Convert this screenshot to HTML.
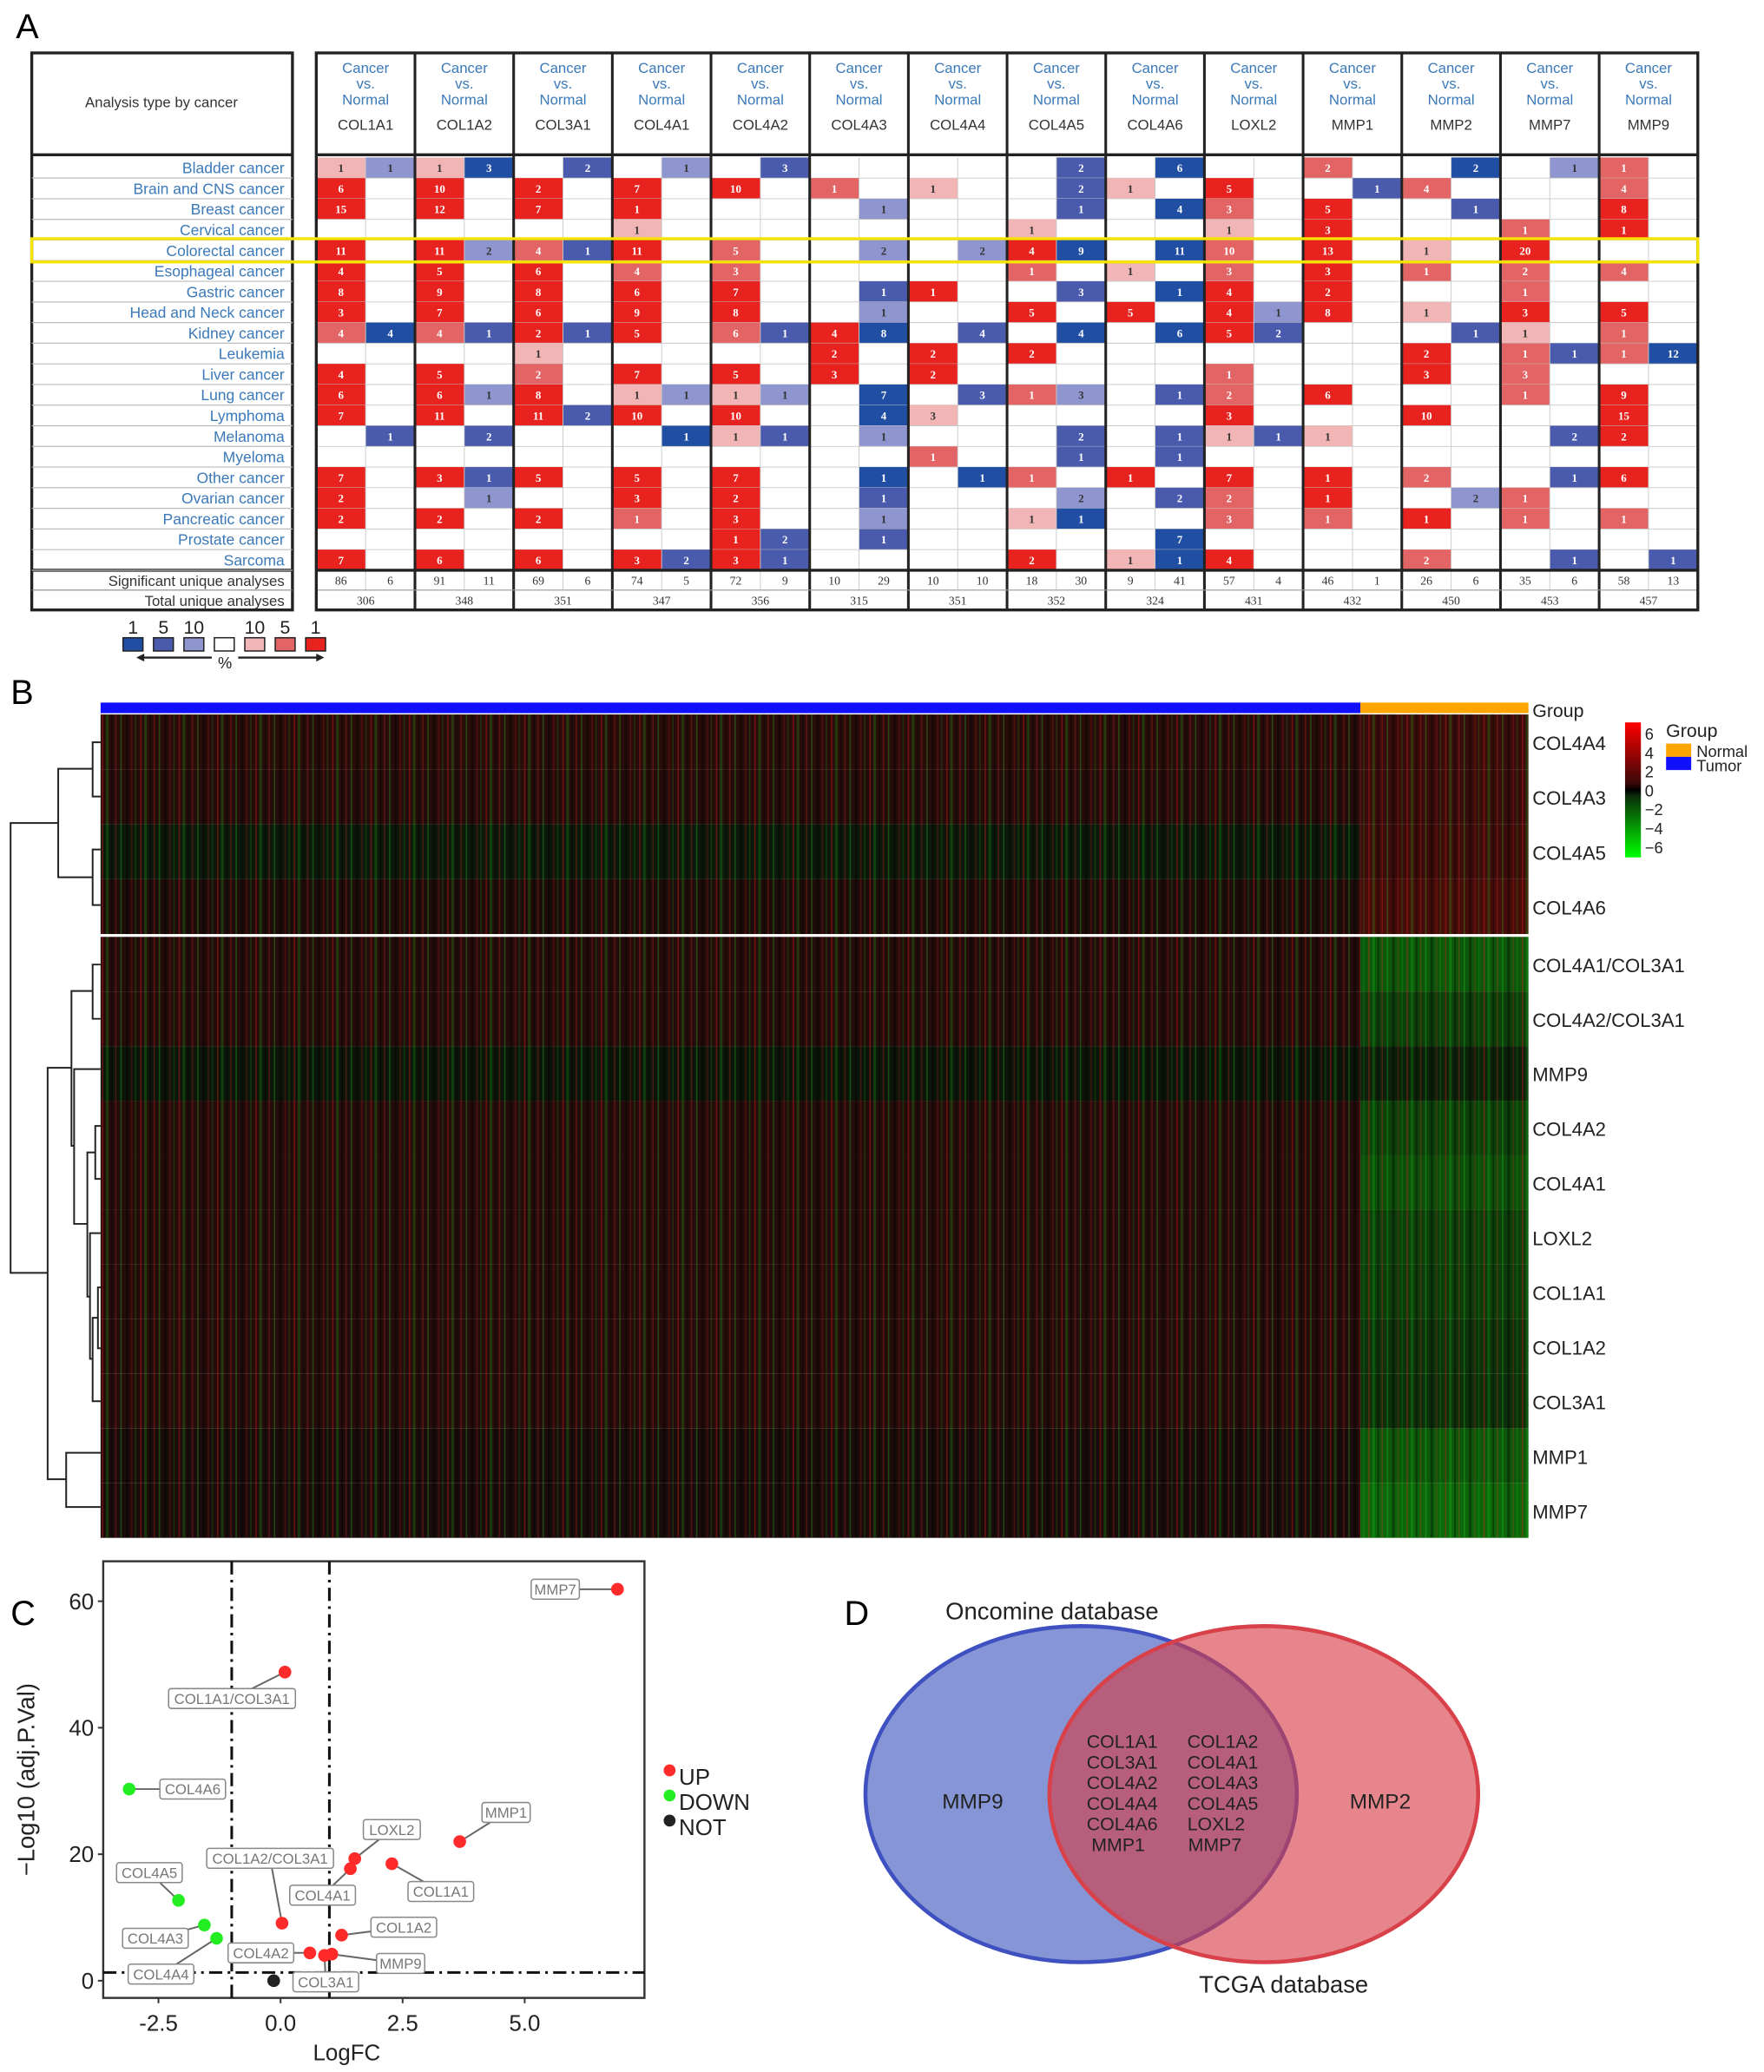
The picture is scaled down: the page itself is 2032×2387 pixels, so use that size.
<!DOCTYPE html>
<html><head><meta charset="utf-8"><style>
html,body{margin:0;padding:0;background:#fff}
svg{display:block;font-family:"Liberation Sans",Arial,sans-serif}
</style></head><body>
<svg id="fig" width="2032" height="2387" viewBox="0 0 1333 1566" preserveAspectRatio="none" xmlns="http://www.w3.org/2000/svg">
<defs>
<pattern id="stripes" x="76" y="0" width="29" height="10" patternUnits="userSpaceOnUse">
<rect x="1" y="0" width="1" height="10" fill="#ff2020" opacity="0.35"/>
<rect x="4" y="0" width="2" height="10" fill="#20ff20" opacity="0.18"/>
<rect x="8" y="0" width="1" height="10" fill="#000" opacity="0.4"/>
<rect x="11" y="0" width="1" height="10" fill="#ff3030" opacity="0.25"/>
<rect x="15" y="0" width="1" height="10" fill="#30ff30" opacity="0.25"/>
<rect x="19" y="0" width="2" height="10" fill="#000" opacity="0.35"/>
<rect x="23" y="0" width="1" height="10" fill="#ff2020" opacity="0.2"/>
<rect x="26" y="0" width="1" height="10" fill="#20ff20" opacity="0.15"/>
</pattern>
<linearGradient id="cbar" x1="0" y1="0" x2="0" y2="1">
<stop offset="0" stop-color="#ff0000"/><stop offset="0.45" stop-color="#3a0808"/><stop offset="0.5" stop-color="#000"/><stop offset="0.55" stop-color="#0a300a"/><stop offset="1" stop-color="#00ff00"/>
</linearGradient>
</defs>
<g id="panelA"></g>
<g id="panelB"></g>
<g id="panelC"></g>
<g id="panelD"></g>
</svg>
<script>
// ---------- Panel A data ----------
const genes=["COL1A1","COL1A2","COL3A1","COL4A1","COL4A2","COL4A3","COL4A4","COL4A5","COL4A6","LOXL2","MMP1","MMP2","MMP7","MMP9"];
const cancers=["Bladder cancer","Brain and CNS cancer","Breast cancer","Cervical cancer","Colorectal cancer","Esophageal cancer","Gastric cancer","Head and Neck cancer","Kidney cancer","Leukemia","Liver cancer","Lung cancer","Lymphoma","Melanoma","Myeloma","Other  cancer","Ovarian cancer","Pancreatic cancer","Prostate cancer","Sarcoma"];
const upCells=[
"1a 6c 15c 0 11c 4c 8c 3c 4b 0 4c 6c 7c 0 0 7c 2c 2c 0 7c",
"1a 10c 12c 0 11c 5c 9c 7c 4b 0 5c 6c 11c 0 0 3c 0 2c 0 6c",
"0 2c 7c 0 4b 6c 8c 6c 2c 1a 2b 8c 11c 0 0 5c 0 2c 0 6c",
"0 7c 1c 1a 11c 4b 6c 9c 5c 0 7c 1a 10c 0 0 5c 3c 1b 0 3c",
"0 10c 0 0 5b 3b 7c 8c 6b 0 5c 1a 10c 1a 0 7c 2c 3c 1c 3c",
"0 1b 0 0 0 0 0 0 4c 2c 3c 0 0 0 0 0 0 0 0 0",
"0 1a 0 0 0 0 1c 0 0 2c 2c 0 3a 0 1b 0 0 0 0 0",
"0 0 0 1a 4c 1b 0 5c 0 2c 0 1b 0 0 0 1b 0 1a 0 2c",
"0 1a 0 0 0 1a 0 5c 0 0 0 0 0 0 0 1c 0 0 0 1a",
"0 5c 3b 1a 10b 3b 4c 4c 5c 0 1b 2b 3c 1a 0 7c 2b 3b 0 4c",
"2b 0 5c 3c 13c 3c 2c 8c 0 0 0 6c 0 1a 0 1c 1c 1b 0 0",
"0 4b 0 0 1a 1b 0 1a 0 2c 3c 0 10c 0 0 2b 0 1c 0 2b",
"0 0 0 1b 20c 2b 1b 3c 1a 1b 3b 1b 0 0 0 0 1b 1b 0 0",
"1b 4b 8c 1c 0 4b 0 5c 1b 1b 0 9c 15c 2c 0 6c 0 1b 0 0"];
const downCells=[
"1a 0 0 0 0 0 0 0 4c 0 0 0 0 1b 0 0 0 0 0 0",
"3c 0 0 0 2a 0 0 0 1b 0 0 1a 0 2b 0 1b 1a 0 0 0",
"2b 0 0 0 1b 0 0 0 1b 0 0 0 2b 0 0 0 0 0 0 0",
"1a 0 0 0 0 0 0 0 0 0 0 1a 0 1c 0 0 0 0 0 2b",
"3b 0 0 0 0 0 0 0 1b 0 0 1a 0 1b 0 0 0 0 2b 1b",
"0 0 1a 0 2a 0 1b 1a 8c 0 0 7c 4c 1a 0 1c 1b 1a 1b 0",
"0 0 0 0 2a 0 0 0 4b 0 0 3b 0 0 0 1c 0 0 0 0",
"2b 2b 1b 0 9c 0 3b 0 4c 0 0 3a 0 2b 1b 0 2a 1c 0 0",
"6c 0 4c 0 11c 0 1c 0 6c 0 0 1b 0 1b 1b 0 2b 0 7c 1c",
"0 0 0 0 0 0 0 1a 2b 0 0 0 0 1b 0 0 0 0 0 0",
"0 1b 0 0 0 0 0 0 0 0 0 0 0 0 0 0 0 0 0 0",
"2c 0 1b 0 0 0 0 0 1b 0 0 0 0 0 0 0 2a 0 0 0",
"1a 0 0 0 0 0 0 0 0 1b 0 0 0 2b 0 1b 0 0 0 1b",
"0 0 0 0 0 0 0 0 0 12c 0 0 0 0 0 0 0 0 0 1b"];
const sigUp=[86,91,69,74,72,10,10,18,9,57,46,26,35,58];
const sigDown=[6,11,6,5,9,29,10,30,41,4,1,6,6,13];
const totalAnalyses=[306,348,351,347,356,315,351,352,324,431,432,450,453,457];

// ---------- Panel B data ----------
const hmRows=["COL4A4","COL4A3","COL4A5","COL4A6","COL4A1/COL3A1","COL4A2/COL3A1","MMP9","COL4A2","COL4A1","LOXL2","COL1A1","COL1A2","COL3A1","MMP1","MMP7"];
const tumorMean=[0.5,0.4,-0.2,0.2,0.4,0.4,-0.1,0.4,0.4,0.4,0.4,0.4,0.4,0.1,0.1];
const normalMean=[1.0,1.0,1.1,1.4,-2.3,-1.5,-0.5,-1.6,-2.0,-1.5,-1.4,-1.1,-1.0,-2.3,-2.8];
const cbarTicks=["6","4","2","0","\u22122","\u22124","\u22126"];

// ---------- Panel C data ----------
const volGenes=["MMP7","COL1A1/COL3A1","COL4A6","MMP1","LOXL2","COL4A1","COL1A1","COL1A2/COL3A1","COL4A5","COL4A3","COL4A4","COL1A2","COL4A2","MMP9","COL3A1",""];
const volLogFC=[6.9,0.09,-3.1,3.67,1.52,1.43,2.28,0.03,-2.09,-1.56,-1.31,1.25,0.6,1.05,0.9,-0.14];
const volLogP=[61.9,48.8,30.3,22,19.3,17.7,18.5,9.1,12.7,8.8,6.7,7.2,4.4,4.2,4.0,0];
const volGroup=["UP","UP","DOWN","UP","UP","UP","UP","UP","DOWN","DOWN","DOWN","UP","UP","UP","UP","NOT"];
const xTicks=[-2.5,0,2.5,5];
const yTicks=[0,20,40,60];

const NS="http://www.w3.org/2000/svg";
function mk(parent,tag,attrs,text){const e=document.createElementNS(NS,tag);for(const k in attrs)e.setAttribute(k,attrs[k]);if(text!==undefined)e.textContent=text;parent.appendChild(e);return e;}

// ================= PANEL A =================
(function(){
const g=document.getElementById('panelA');
let t=mk(g,'text',{x:12,y:29,'font-size':26},'A');


const L0=24,L1=221,R0=239,R1=1283,T0=40,H1=117,rowTop=119,rowH=15.6,S0=431,S1=446,S2=461;
const colW=(R1-R0)/genes.length;
// left box
let lb=mk(g,'rect',{x:L0,y:T0,width:L1-L0,height:S2-T0,fill:'#fff',stroke:'#222','stroke-width':2.2});


mk(g,'line',{x1:L0,x2:L1,y1:H1,y2:H1,stroke:'#222','stroke-width':2.2});
mk(g,'line',{x1:L0,x2:L1,y1:S0,y2:S0,stroke:'#222','stroke-width':2.2});
mk(g,'line',{x1:L0,x2:L1,y1:S1,y2:S1,stroke:'#888','stroke-width':0.8});
t=mk(g,'text',{x:122,y:81,'font-size':11,'text-anchor':'middle',fill:'#333'},'Analysis type by cancer');


t=mk(g,'text',{x:215,y:443,'font-size':11,'text-anchor':'end',fill:'#333'},'Significant unique analyses');


t=mk(g,'text',{x:215,y:458,'font-size':11,'text-anchor':'end',fill:'#333'},'Total unique analyses');


// right box
mk(g,'rect',{x:R0,y:T0,width:R1-R0,height:S2-T0,fill:'#fff',stroke:'none'});
const shadeCol={ra:'#f2b5b5',rb:'#e36464',rc:'#e8231f',ba:'#8f96cf',bb:'#4a5bad',bc:'#1f4ea3'};
cancers.forEach((c,i)=>{
  const y=rowTop+i*rowH;
  mk(g,'line',{x1:L0,x2:L1,y1:y+rowH,y2:y+rowH,stroke:'#bbb','stroke-width':0.8});
  const lab=mk(g,'text',{x:215,y:y+12,'font-size':11.5,'text-anchor':'end',fill:'#3b79b8'},c);
  
  
});
genes.forEach((gn,j)=>{
  const x=R0+j*colW, cx=x+colW/2;
  let h=mk(g,'text',{x:cx,y:55,'font-size':11,'text-anchor':'middle',fill:'#3b79b8'},'Cancer');
  
  
  mk(g,'text',{x:cx,y:67,'font-size':11,'text-anchor':'middle',fill:'#3b79b8'},'vs.');
  mk(g,'text',{x:cx,y:79,'font-size':11,'text-anchor':'middle',fill:'#3b79b8'},'Normal');
  h=mk(g,'text',{x:cx,y:98,'font-size':11,'text-anchor':'middle',fill:'#333'},gn);
  
  
  const ups=upCells[j].split(' '), downs=downCells[j].split(' ');
  for(let i=0;i<cancers.length;i++){
    const y=rowTop+i*rowH;
    [[ups[i],'r',0],[downs[i],'b',1]].forEach(([v,col,k])=>{
      const xx=x+k*colW/2;
      if(v!=='0'){
        const num=v.slice(0,-1), sh=v.slice(-1);
        const r=mk(g,'rect',{x:xx,y:y,width:colW/2,height:rowH,fill:shadeCol[col+sh]});
        
        
        const tx=mk(g,'text',{x:xx+colW/4,y:y+11,'font-size':8.5,'font-weight':'bold','font-family':'Liberation Serif, serif','text-anchor':'middle',fill:sh==='a'?'#333':'#fff'},num);
        
        
      }
    });
    mk(g,'line',{x1:x,x2:x+colW,y1:y+rowH,y2:y+rowH,stroke:'#c8c8c8','stroke-width':0.6});
  }
  mk(g,'line',{x1:x+colW/2,x2:x+colW/2,y1:rowTop,y2:S1,stroke:'#c8c8c8','stroke-width':0.6});
  let s=mk(g,'text',{x:x+colW/4,y:442,'font-size':9,'font-family':'Liberation Serif, serif','text-anchor':'middle',fill:'#333'},sigUp[j]);
  
  
  s=mk(g,'text',{x:x+3*colW/4,y:442,'font-size':9,'font-family':'Liberation Serif, serif','text-anchor':'middle',fill:'#333'},sigDown[j]);
  
  
  s=mk(g,'text',{x:cx,y:457,'font-size':9,'font-family':'Liberation Serif, serif','text-anchor':'middle',fill:'#333'},totalAnalyses[j]);
  
  
  if(j>0) mk(g,'line',{x1:x,x2:x,y1:T0,y2:S2,stroke:'#222','stroke-width':2});
});
mk(g,'line',{x1:R0,x2:R1,y1:H1,y2:H1,stroke:'#222','stroke-width':2.2});
mk(g,'line',{x1:R0,x2:R1,y1:S0,y2:S0,stroke:'#222','stroke-width':2.2});
mk(g,'line',{x1:R0,x2:R1,y1:S1,y2:S1,stroke:'#999','stroke-width':0.8});
mk(g,'rect',{x:R0,y:T0,width:R1-R0,height:S2-T0,fill:'none',stroke:'#222','stroke-width':2.2});
// highlight
const hl=mk(g,'rect',{x:L0,y:rowTop+4*rowH-1,width:R1-L0,height:rowH+2,fill:'none',stroke:'#f5e400','stroke-width':2.2});


// legend
const lg=mk(g,'g',{});


const legCols=['#1f4ea3','#4a5bad','#8f96cf','#fff','#f2b5b5','#e36464','#e8231f'];
const legLab=['1','5','10','','10','5','1'];
legCols.forEach((c,i)=>{
  const x=93+i*23;
  mk(lg,'rect',{x:x,y:482,width:15,height:10,fill:c,stroke:'#222','stroke-width':1});
  if(legLab[i]) mk(lg,'text',{x:x+7.5,y:479,'font-size':14,'text-anchor':'middle',fill:'#222'},legLab[i]);
});
mk(lg,'line',{x1:105,x2:160,y1:497,y2:497,stroke:'#222','stroke-width':1.5});
mk(lg,'path',{d:'M103,497 l6,-3 v6 z',fill:'#222'});
mk(lg,'line',{x1:180,x2:240,y1:497,y2:497,stroke:'#222','stroke-width':1.5});
mk(lg,'path',{d:'M245,497 l-6,-3 v6 z',fill:'#222'});
mk(lg,'text',{x:170,y:505,'font-size':12,'text-anchor':'middle',fill:'#222'},'%');
})();

// ================= PANEL B =================
(function(){
const g=document.getElementById('panelB');
let t=mk(g,'text',{x:8,y:532,'font-size':26},'B');


const X0=76,XN=1028,X1=1155;
function hmColor(v){
  if(v>=0){const r=Math.min(255,Math.round(22+v*34));return 'rgb('+r+',12,10)';}
  const gg=Math.min(255,Math.round(18+(-v)*30));return 'rgb(12,'+gg+',10)';
}
let r=mk(g,'rect',{x:X0,y:531,width:XN-X0,height:8,fill:'#1010ff'});


r=mk(g,'rect',{x:XN,y:531,width:X1-XN,height:8,fill:'#ffa500'});


t=mk(g,'text',{x:1158,y:542,'font-size':14,fill:'#222'},'Group');


function rowY(i){return i<4?540+i*41.5:708+(i-4)*41.3;}
function rowH(i){return i<4?41.5:41.3;}
hmRows.forEach((name,i)=>{
  const y=rowY(i),h=rowH(i);
  let a=mk(g,'rect',{x:X0,y:y,width:XN-X0,height:h,fill:hmColor(tumorMean[i])});
  
  
  let b=mk(g,'rect',{x:XN,y:y,width:X1-XN,height:h,fill:hmColor(normalMean[i])});
  
  
  const lab=mk(g,'text',{x:1158,y:y+h/2+6,'font-size':14.5,fill:'#222'},name);
  
  
});
mk(g,'rect',{x:X0,y:540,width:X1-X0,height:622,fill:'url(#stripes)'});
mk(g,'rect',{x:X0,y:706,width:X1-X0,height:2,fill:'#fff'});
// dendrogram
const dg=mk(g,'g',{stroke:'#222','stroke-width':1.3,fill:'none'});


function node(x,ya,yb,xa,xb){mk(dg,'path',{d:'M'+xa+','+ya+'H'+x+'V'+yb+'H'+xb});}
node(70,561,602,76,76);node(70,642,684,76,76);node(44,581,663,70,70);
node(70,729,770,76,76);
node(72,851,891,76,76);node(74,973,1019,76,76);node(70,996,1059,74,76);node(68,932,1027,76,70);
node(66,871,980,72,68);node(56,808,925,76,66);node(54,749,866,70,56);
node(50,1098,1139,76,76);node(36,807,1118,54,50);node(8,622,962,44,36);
// colorbar
let cb=mk(g,'rect',{x:1228,y:546,width:12,height:102,fill:'url(#cbar)'});


cbarTicks.forEach((s,i)=>{
  const tk=mk(g,'text',{x:1243,y:559+i*14.3,'font-size':12,fill:'#222'},s);
  
  
});
t=mk(g,'text',{x:1259,y:557,'font-size':14,fill:'#222'},'Group');


mk(g,'rect',{x:1259,y:562,width:19,height:10,fill:'#ffa500'});
mk(g,'rect',{x:1259,y:572,width:19,height:10,fill:'#1010ff'});
t=mk(g,'text',{x:1282,y:572,'font-size':12,fill:'#222'},'Normal');


t=mk(g,'text',{x:1282,y:583,'font-size':12,fill:'#222'},'Tumor');


})();

// ================= PANEL C =================
(function(){
const g=document.getElementById('panelC');
let t=mk(g,'text',{x:8,y:1228,'font-size':26},'C');


const PX0=78,PX1=487,PY0=1180,PY1=1510;
const xs=v=>212+v*36.9, ys=v=>1497-v*4.78;
mk(g,'rect',{x:PX0,y:PY0,width:PX1-PX0,height:PY1-PY0,fill:'#fff',stroke:'#333','stroke-width':1.6});
xTicks.forEach(v=>{
  mk(g,'line',{x1:xs(v),x2:xs(v),y1:PY1,y2:PY1+4,stroke:'#333','stroke-width':1.3});
  const tk=mk(g,'text',{x:xs(v),y:PY1+25,'font-size':17,'text-anchor':'middle',fill:'#222'},v.toFixed(1));
  
  
});
yTicks.forEach(v=>{
  mk(g,'line',{x1:PX0-4,x2:PX0,y1:ys(v),y2:ys(v),stroke:'#333','stroke-width':1.3});
  const tk=mk(g,'text',{x:PX0-7,y:ys(v)+6,'font-size':17,'text-anchor':'end',fill:'#222'},v);
  
  
});
t=mk(g,'text',{x:262,y:1557,'font-size':17,'text-anchor':'middle',fill:'#222'},'LogFC');


t=mk(g,'text',{x:0,y:0,'font-size':18,'text-anchor':'middle',fill:'#222',transform:'translate(26,1345) rotate(-90)'},'\u2212Log10 (adj.P.Val)');


const dash={stroke:'#111','stroke-width':2,'stroke-dasharray':'10,4,2,4'};
mk(g,'line',Object.assign({x1:xs(-1),x2:xs(-1),y1:PY0,y2:PY1},dash));
mk(g,'line',Object.assign({x1:xs(1),x2:xs(1),y1:PY0,y2:PY1},dash));
mk(g,'line',Object.assign({x1:PX0,x2:PX1,y1:ys(1.3),y2:ys(1.3)},dash));
const labOff=[[-47,0],[-40,20],[48,0],[35,-22],[28,-22],[-21,20],[37,21],[-9,-49],[-22,-21],[-37,10],[-42,27],[47,-6],[-37,0],[52,7],[1,20],null];
const colMap={UP:'#ff2a2a',DOWN:'#22ee22',NOT:'#222'};
volGenes.forEach((gn,i)=>{
  const px=xs(volLogFC[i]),py=ys(volLogP[i]);
  if(gn&&labOff[i]){
    const lx=px+labOff[i][0],ly=py+labOff[i][1];
    mk(g,'line',{x1:px,y1:py,x2:lx,y2:ly,stroke:'#666','stroke-width':1.3});
    const w=gn.length*6.6+10;
    const bx=mk(g,'rect',{x:lx-w/2,y:ly-7.5,width:w,height:15,rx:2,fill:'#fff',stroke:'#888','stroke-width':1});
    
    
    const lt=mk(g,'text',{x:lx,y:ly+4,'font-size':11,'text-anchor':'middle',fill:'#777'},gn);
    
    
  }
});
volGenes.forEach((gn,i)=>{
  const c=mk(g,'circle',{cx:xs(volLogFC[i]),cy:ys(volLogP[i]),r:4.8,fill:colMap[volGroup[i]]});
  
  
});
[['UP',1338],['DOWN',1357],['NOT',1376]].forEach(([k,y])=>{
  const c=mk(g,'circle',{cx:506,cy:y,r:4.5,fill:colMap[k]});
  
  
  const lt=mk(g,'text',{x:513,y:y+11,'font-size':17,fill:'#222'},k);
  
  
});
})();

// ================= PANEL D =================
(function(){
const g=document.getElementById('panelD');
let t=mk(g,'text',{x:638,y:1228,'font-size':26},'D');


let e=mk(g,'ellipse',{cx:817,cy:1356,rx:163,ry:127,fill:'#8595d5',stroke:'#3f51c0','stroke-width':3});


e=mk(g,'ellipse',{cx:955,cy:1356,rx:162,ry:127,fill:'rgba(215,60,70,0.62)',stroke:'#d9414a','stroke-width':3});


t=mk(g,'text',{x:795,y:1224,'font-size':18,'text-anchor':'middle',fill:'#222'},'Oncomine database');


t=mk(g,'text',{x:970,y:1506,'font-size':18,'text-anchor':'middle',fill:'#222'},'TCGA database');


t=mk(g,'text',{x:735,y:1367,'font-size':16,'text-anchor':'middle',fill:'#222'},'MMP9');


t=mk(g,'text',{x:1043,y:1367,'font-size':16,'text-anchor':'middle',fill:'#222'},'MMP2');


const shared=[['COL1A1','COL1A2'],['COL3A1','COL4A1'],['COL4A2','COL4A3'],['COL4A4','COL4A5'],['COL4A6','LOXL2'],['MMP1','MMP7']];
shared.forEach((p,i)=>{
  const y=1321+i*15.6;
  let a=mk(g,'text',{x:i===5?845:848,y:y,'font-size':14,'text-anchor':'middle',fill:'#222'},p[0]);
  
  
  a=mk(g,'text',{x:i===4?919:(i===5?918:924),y:y,'font-size':14,'text-anchor':'middle',fill:'#222'},p[1]);
  
  
});
})();
</script>
</body></html>
